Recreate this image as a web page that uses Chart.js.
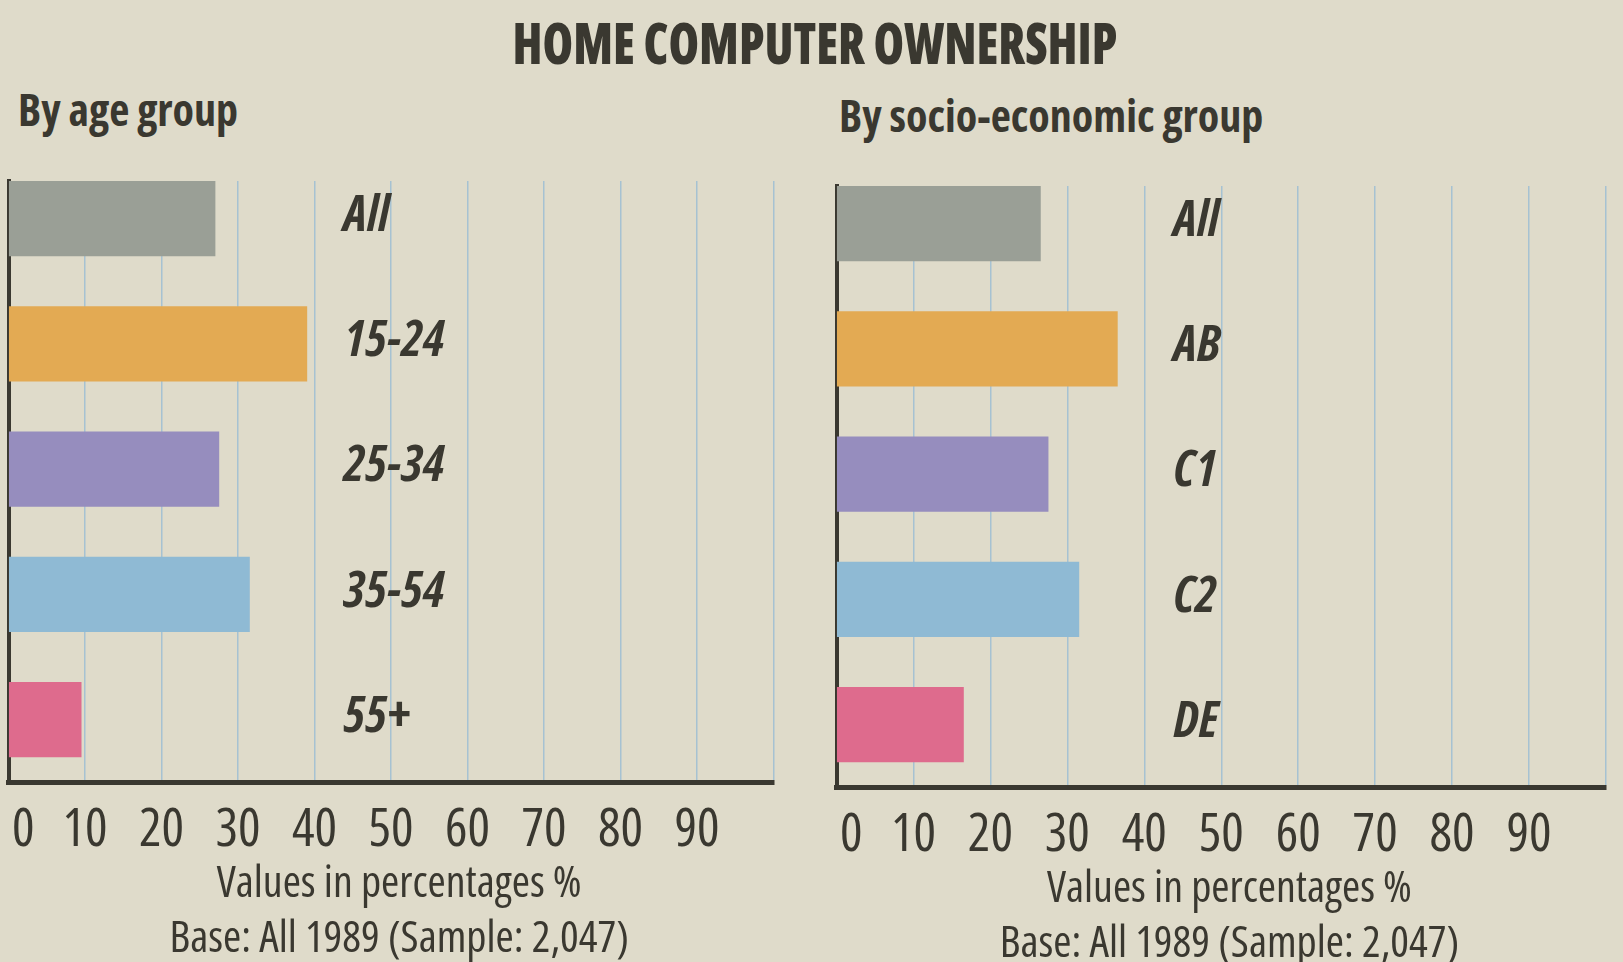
<!DOCTYPE html>
<html>
<head>
<meta charset="utf-8">
<script src="https://cdn.jsdelivr.net/npm/chart.js@4.4.1/dist/chart.umd.min.js"></script>
<style>
  body {
    margin: 0;
    width: 1623px;
    height: 962px;
    overflow: hidden;
    position: relative;
    background: #dfdbca;
    color: #3a3830;
    font-family: 'Open Sans', sans-serif;
    font-stretch: 75%;
  }
  .txt { position: absolute; white-space: nowrap; line-height: 1; font-weight: bold; }
  #title { left: 0; width: 1630px; top: 14px; text-align: center; font-size: 57px; font-weight: 800; transform: scaleX(0.865); }
  #subLeft { left: 18px; top: 87px; font-size: 44px; }
  #subRight { left: 839px; top: 93px; font-size: 44px; }
  canvas { position: absolute; }
  /* canvases reach past the plot's left edge so the zero label has room */
  #ageChart { left: -72px; top: 0; }
  #socioChart { left: 756px; top: 5px; }
</style>
</head>
<body>
<div class="txt" id="title">HOME COMPUTER OWNERSHIP</div>
<div class="txt" id="subLeft">By age group</div>
<div class="txt" id="subRight">By socio-economic group</div>
<canvas id="ageChart" width="883" height="966"></canvas>
<canvas id="socioChart" width="867" height="966"></canvas>
<script>
const ageGroups = ['All', '15-24', '25-34', '35-54', '55+'];
const ageValues = [27, 39, 27.5, 31.5, 9.5];

const socioGroups = ['All', 'AB', 'C1', 'C2', 'DE'];
const socioValues = [26.5, 36.5, 27.5, 31.5, 16.5];

const tickValues = [0, 10, 20, 30, 40, 50, 60, 70, 80, 90];
const footerLines = ['Values in percentages %', 'Base: All 1989 (Sample: 2,047)'];

const barColors = ['#9a9f96', '#e3aa53', '#968dbe', '#8fbad4', '#de6b8d'];
const inkColor = '#3a3830';
const gridColor = '#a6c2d2';
const fontFamily = "'Open Sans', sans-serif";
const nb = '\u00a0';

// group names written inside the plot, to the right of the bars
const groupLabels = {
  id: 'groupLabels',
  afterDatasetsDraw(chart, args, opts) {
    const {ctx, scales: {x, y}} = chart;
    ctx.save();
    ctx.font = `italic bold condensed 50px ${fontFamily}`;
    ctx.fillStyle = inkColor;
    ctx.textBaseline = 'middle';
    opts.labels.forEach((label, i) => {
      ctx.fillText(label, x.getPixelForValue(opts.at), y.getPixelForValue(i) - 2);
    });
    ctx.restore();
  }
};

function drawChart(id, labels, values, pad) {
  return new Chart(document.getElementById(id), {
    type: 'bar',
    data: {
      datasets: [{
        data: values.map((v, i) => ({x: v, y: i})),
        backgroundColor: barColors,
        borderWidth: 0,
        barThickness: 74.5,
      }]
    },
    options: {
      indexAxis: 'y',
      responsive: false,
      animation: false,
      layout: {padding: pad},
      plugins: {
        legend: {display: false},
        tooltip: {enabled: false},
        groupLabels: {labels: labels, at: 43.8},
      },
      scales: {
        x: {
          type: 'linear',
          min: 0,
          max: 100,
          grid: {color: gridColor, lineWidth: 1.5, drawTicks: false},
          border: {display: true, color: inkColor, width: 5},
          ticks: {
            stepSize: 10,
            autoSkip: false,
            maxRotation: 0,
            padding: 17,
            color: inkColor,
            font: {family: fontFamily, size: 53, weight: 'condensed'},
            // the zero sits a little right of the axis in the original
            callback: v => v === 0 ? nb.repeat(3) + '0' : (tickValues.includes(v) ? v : ''),
          },
          title: {
            display: true,
            text: footerLines.map(t => nb + nb + t),
            color: inkColor,
            font: {family: fontFamily, size: 44, weight: 'condensed', lineHeight: 1.25},
            padding: {top: -23.2, bottom: 0},
          },
        },
        y: {
          type: 'linear',
          reverse: true,
          offset: false,
          min: -0.3,
          max: 4.5,
          grid: {display: false, drawTicks: false, offset: false},
          border: {display: true, color: inkColor, width: 4},
          ticks: {display: false},
        },
      },
    },
    plugins: [groupLabels],
  });
}

drawChart('ageChart', ageGroups, ageValues, {left: 80.5, right: 37.5, top: 181, bottom: -0.6});
drawChart('socioChart', socioGroups, socioValues, {left: 80.5, right: 14.5, top: 181, bottom: -0.6});
</script>
</body>
</html>
